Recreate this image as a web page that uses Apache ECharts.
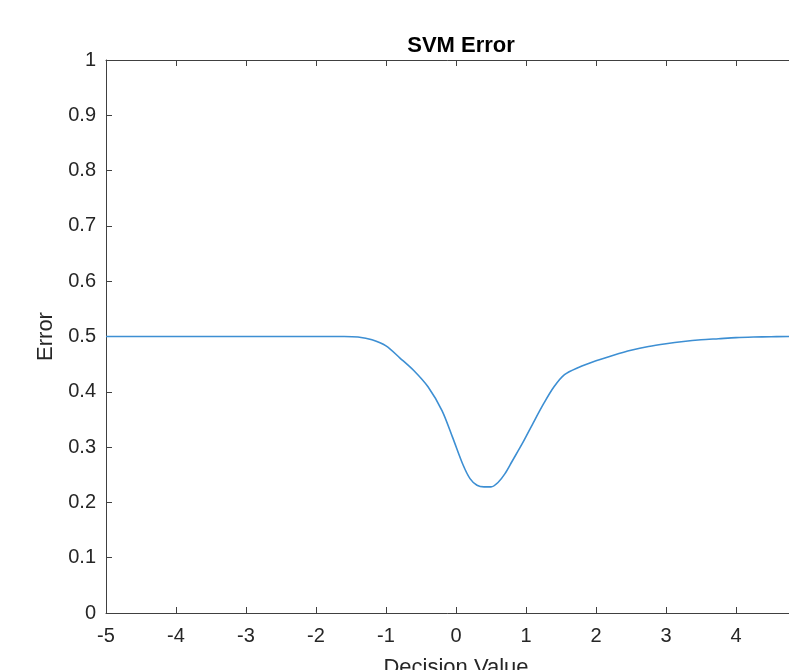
<!DOCTYPE html>
<html>
<head>
<meta charset="utf-8">
<script src="https://cdn.jsdelivr.net/npm/echarts@6/dist/echarts.min.js"></script>
<style>
html,body{margin:0;padding:0;background:#fff;}
#chart{width:789px;height:670px;}
</style>
</head>
<body>
<div id="chart"></div>
<script>
const chartTitle = 'SVM Error';
const xName = 'Decision Value';
const yName = 'Error';
const decisionValues = [-5, -4, -3, -2, -1.6, -1.4, -1.2, -1.0, -0.8, -0.6, -0.4, -0.2, -0.05, 0.1, 0.2, 0.3, 0.4, 0.5, 0.6, 0.7, 0.8, 0.95, 1.1, 1.25, 1.4, 1.55, 1.75, 2.0, 2.25, 2.5, 2.75, 3.0, 3.25, 3.5, 3.75, 4.0, 4.25, 4.5, 4.75, 5.0];
const errorValues = [0.5, 0.5, 0.5, 0.5, 0.5, 0.499, 0.494, 0.483, 0.461, 0.438, 0.409, 0.366, 0.318, 0.268, 0.243, 0.231, 0.228, 0.228, 0.236, 0.252, 0.274, 0.307, 0.343, 0.378, 0.409, 0.431, 0.444, 0.456, 0.466, 0.475, 0.482, 0.487, 0.491, 0.494, 0.496, 0.498, 0.499, 0.4995, 0.5, 0.5];

const font = 'Liberation Sans, Arial, Helvetica, sans-serif';
const axisColor = '#404040';
const textColor = '#262626';

const chart = echarts.init(document.getElementById('chart'), null, {renderer: 'canvas'});
const commonX = {
  type: 'value', min: -5, max: 5, interval: 1,
  axisLine: {show: true, onZero: false, lineStyle: {color: axisColor, width: 1}},
  axisTick: {show: true, inside: true, length: 6, lineStyle: {color: axisColor}},
  splitLine: {show: false}
};
const commonY = {
  type: 'value', min: 0, max: 1, interval: 0.1,
  axisLine: {show: true, onZero: false, lineStyle: {color: axisColor, width: 1}},
  axisTick: {show: true, inside: true, length: 6, lineStyle: {color: axisColor}},
  splitLine: {show: false}
};
chart.setOption({
  animation: false,
  backgroundColor: '#ffffff',
  title: {
    text: chartTitle, left: 456, top: 30, textAlign: 'center',
    textStyle: {fontFamily: font, fontSize: 22, fontWeight: 'bold', color: '#000'}
  },
  grid: {left: 106, top: 60, bottom: 57, right: -17, containLabel: false, outerBoundsMode: 'none'},
  xAxis: [
    Object.assign({}, commonX, {
      position: 'bottom',
      name: xName, nameLocation: 'middle', nameGap: 44,
      nameTextStyle: {fontFamily: font, fontSize: 22, color: textColor},
      axisLabel: {show: true, margin: 13, fontFamily: font, fontSize: 20, color: textColor}
    }),
    Object.assign({}, commonX, {position: 'top', axisLabel: {show: false}})
  ],
  yAxis: [
    Object.assign({}, commonY, {
      position: 'left',
      name: yName, nameLocation: 'middle', nameGap: 49, nameRotate: 90,
      nameTextStyle: {fontFamily: font, fontSize: 22, color: textColor},
      axisLabel: {show: true, margin: 10, fontFamily: font, fontSize: 20, color: textColor}
    }),
    Object.assign({}, commonY, {position: 'right', axisLabel: {show: false}})
  ],
  series: [{
    type: 'line',
    data: decisionValues.map((x, i) => [x, errorValues[i]]),
    smooth: 0.3,
    showSymbol: false,
    lineStyle: {color: '#3d8fd3', width: 1.6},
    clip: true
  }]
});
</script>
</body>
</html>
